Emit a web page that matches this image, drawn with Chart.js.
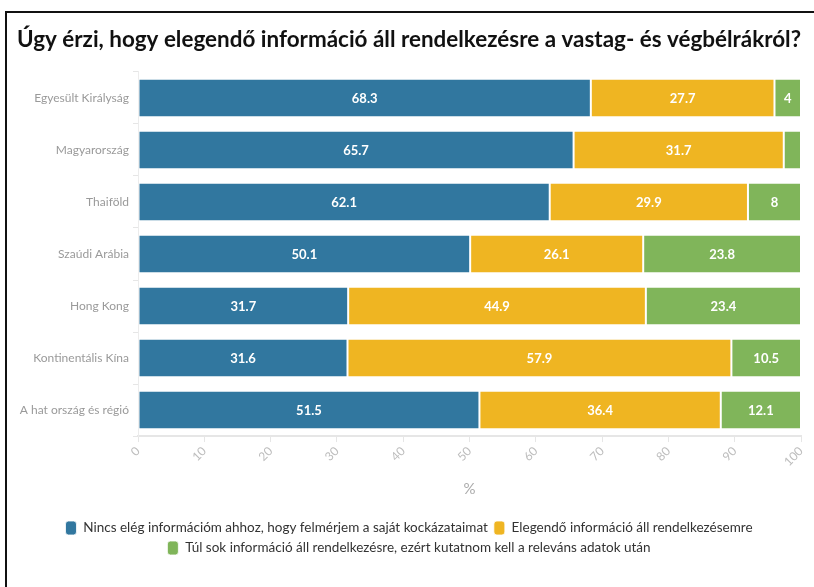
<!DOCTYPE html>
<html>
<head>
<meta charset="utf-8">
<script src="https://cdn.jsdelivr.net/npm/chart.js@4.4.1/dist/chart.umd.min.js"></script>
<style>
  html, body { margin: 0; padding: 0; background: #fff; }
  #wrap { position: relative; width: 814px; height: 587px; }
  #frame {
    position: absolute; left: 5px; top: 11px; right: -4px; bottom: -4px;
    border-left: 2px solid #111; border-top: 2px solid #111;
    pointer-events: none;
  }
</style>
</head>
<body>
<div id="wrap">
  <canvas id="chart" width="814" height="587"></canvas>
  <div id="frame"></div>
</div>
<script>
// Categories and series
const categories = [
  "Egyesült Királyság",
  "Magyarország",
  "Thaiföld",
  "Szaúdi Arábia",
  "Hong Kong",
  "Kontinentális Kína",
  "A hat ország és régió"
];
const notEnough = [68.3, 65.7, 62.1, 50.1, 31.7, 31.6, 51.5];
const enough = [27.7, 31.7, 29.9, 26.1, 44.9, 57.9, 36.4];
const tooMuch = [4, 2.6, 8, 23.8, 23.4, 10.5, 12.1];
const seriesNames = [
  "Nincs elég információm ahhoz, hogy felmérjem a saját kockázataimat",
  "Elegendő információ áll rendelkezésemre",
  "Túl sok információ áll rendelkezésre, ezért kutatnom kell a releváns adatok után"
];
const colours = ["#31779f", "#efb522", "#80b55a"];
const xTicks = [0, 10, 20, 30, 40, 50, 60, 70, 80, 90, 100];

const FONT = "Lato, 'Open Sans', sans-serif";

// Writes the value in the middle of each bar (skips tiny ones)
const valueLabels = {
  id: "valueLabels",
  afterDatasetsDraw(chart) {
    const ctx = chart.ctx;
    ctx.save();
    ctx.fillStyle = "#fff";
    ctx.font = "bold 13px " + FONT;
    ctx.textAlign = "center";
    ctx.textBaseline = "middle";
    chart.data.datasets.forEach((ds, i) => {
      const meta = chart.getDatasetMeta(i);
      meta.data.forEach((bar, j) => {
        const v = ds.data[j];
        if (v < 3) return;
        const x = (bar.x + bar.base) / 2;
        ctx.fillText(String(v), x, bar.y + 1);
      });
    });
    ctx.restore();
  }
};

const ctx = document.getElementById("chart").getContext("2d");
new Chart(ctx, {
  type: "bar",
  data: {
    labels: categories,
    datasets: [
      { label: seriesNames[0], data: notEnough, backgroundColor: colours[0] },
      { label: seriesNames[1], data: enough, backgroundColor: colours[1] },
      { label: seriesNames[2], data: tooMuch, backgroundColor: colours[2] }
    ].map((d) => Object.assign(d, {
      borderColor: "rgba(255,255,255,0.8)",
      borderWidth: 1,
      borderSkipped: false,
      categoryPercentage: 0.74,
      barPercentage: 1
    }))
  },
  plugins: [valueLabels],
  options: {
    indexAxis: "y",
    responsive: false,
    animation: false,
    layout: { padding: { left: 17, right: 13, top: 0, bottom: 22 } },
    scales: {
      x: {
        stacked: true,
        min: 0,
        max: 100,
        afterBuildTicks: (scale) => {
          scale.ticks = xTicks.map((v) => ({ value: v }));
        },
        grid: {
          display: true,
          drawOnChartArea: false,
          drawTicks: true,
          tickLength: 6,
          color: "#e6e6e6"
        },
        border: { display: true, color: "#e6e6e6", width: 2 },
        ticks: {
          color: "#bdbdbd",
          font: { family: FONT, size: 12 },
          minRotation: 45,
          maxRotation: 45,
          padding: 2
        },
        title: {
          display: true,
          text: "%",
          color: "#aaa",
          font: { family: FONT, size: 15 },
          padding: { top: 9, bottom: 17 }
        }
      },
      y: {
        stacked: true,
        grid: {
          display: true,
          drawOnChartArea: false,
          tickLength: 5,
          color: "#e6e6e6"
        },
        border: { display: true, color: "#ececec", width: 1 },
        ticks: {
          color: "#9a9a9a",
          font: { family: FONT, size: 12 },
          padding: 4
        },
        afterFit: (scale) => { scale.width = 121; }
      }
    },
    plugins: {
      title: {
        display: true,
        text: "Úgy érzi, hogy elegendő információ áll rendelkezésre a vastag- és végbélrákról?",
        align: "start",
        color: "#111",
        font: { family: FONT, size: 23.3, weight: "bold" },
        padding: { top: 25, bottom: 19 }
      },
      legend: {
        position: "bottom",
        labels: {
          color: "#333",
          font: { family: FONT, size: 13.5 },
          boxWidth: 11,
          boxHeight: 14,
          useBorderRadius: true,
          borderRadius: 3,
          padding: 6
        }
      },
      tooltip: { enabled: false }
    }
  }
});
</script>
</body>
</html>
